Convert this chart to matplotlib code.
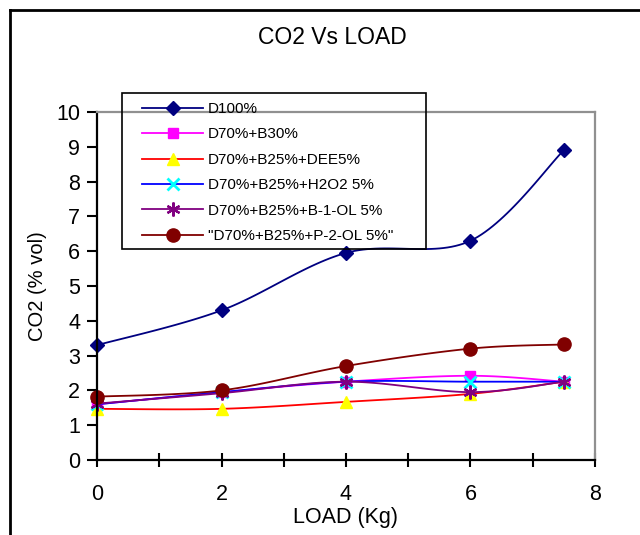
import numpy as np
import matplotlib
matplotlib.use("Agg")
from matplotlib import pyplot as plt
from matplotlib.lines import Line2D
from matplotlib.patches import Rectangle
from matplotlib.ticker import MultipleLocator

plt.rcParams['font.family'] = ['Liberation Sans', 'DejaVu Sans']

# Charge (kg)
load = [0, 2, 4, 6, 7.5]

# CO2 (% vol) pour chaque mélange
co2_d100 = [3.3, 4.3, 5.95, 6.3, 8.9]
co2_b30 = [1.6, 1.95, 2.25, 2.42, 2.25]
co2_dee = [1.47, 1.47, 1.67, 1.9, 2.25]
co2_h2o2 = [1.6, 1.95, 2.25, 2.25, 2.25]
co2_b1ol = [1.62, 1.92, 2.25, 1.95, 2.25]
co2_p2ol = [1.82, 2.0, 2.7, 3.2, 3.32]

noms = ['D100%', 'D70%+B30%', 'D70%+B25%+DEE5%', 'D70%+B25%+H2O2 5%',
        'D70%+B25%+B-1-OL 5%', '"D70%+B25%+P-2-OL 5%"']


# Courbe lissée façon tableur (Bézier / Catmull-Rom), renvoie aussi les indices des points d'origine
def lissage(x, y, n=30):
    p = np.column_stack([x, y]).astype(float)
    p = np.vstack([p[0], p, p[-1]])
    pts = []
    idx = []
    for i in range(1, len(p) - 2):
        p0, p1, p2, p3 = p[i - 1], p[i], p[i + 1], p[i + 2]
        c1 = p1 + (p2 - p0) / 6
        c2 = p2 - (p3 - p1) / 6
        t = np.linspace(0, 1, n, endpoint=False)[:, None]
        seg = ((1 - t) ** 3) * p1 + 3 * ((1 - t) ** 2) * t * c1 + 3 * (1 - t) * t ** 2 * c2 + t ** 3 * p2
        idx.append(len(pts))
        pts.extend(seg)
    idx.append(len(pts))
    pts.append(p[-2])
    pts = np.array(pts)
    return pts[:, 0], pts[:, 1], idx


fig = plt.figure(figsize=(6.4, 5.35), dpi=100)
ax = fig.add_axes([0.1516, 0.1402, 0.778, 0.6505])

styles = [
    dict(color='#000080', marker='D', ms=7, mfc='#000080', mec='#000080'),
    dict(color='#FF00FF', marker='s', ms=7.5, mfc='#FF00FF', mec='#FF00FF'),
    dict(color='#FF0000', marker='^', ms=9, mfc='#FFFF00', mec='#FFFF00'),
    dict(color='#0000FF', marker='x', ms=8, mfc='#00FFFF', mec='#00FFFF', mew=2),
    dict(color='#800080', marker=(6, 2, 0), ms=10, mfc='#800080', mec='#800080', mew=1.6),
    dict(color='#800000', marker='o', ms=9.5, mfc='#800000', mec='#800000'),
]
series = [co2_d100, co2_b30, co2_dee, co2_h2o2, co2_b1ol, co2_p2ol]

for y, nom, st in zip(series, noms, styles):
    xs, ys, idx = lissage(load, y)
    ax.plot(xs, ys, lw=1.3, markevery=idx, label=nom, clip_on=False, **st)

ax.set_xlim(0, 8)
ax.set_ylim(0, 10)
ax.xaxis.set_major_locator(MultipleLocator(2))
ax.xaxis.set_minor_locator(MultipleLocator(1))
ax.yaxis.set_major_locator(MultipleLocator(1))
ax.tick_params(axis='x', which='both', direction='inout', length=10, width=1.5, labelsize=15.5, pad=12)
ax.tick_params(axis='y', direction='out', length=7, width=1.5, labelsize=15.5, pad=5)

for s in ['left', 'bottom']:
    ax.spines[s].set_linewidth(1.6)
    ax.spines[s].set_color('black')
for s in ['top', 'right']:
    ax.spines[s].set_linewidth(1.6)
    ax.spines[s].set_color('#909090')

ax.set_xlabel('LOAD (Kg)', fontsize=15.5, labelpad=2)
ax.set_ylabel('CO2 (% vol)', fontsize=14.5, labelpad=7)
fig.text(0.52, 1 - 37.5 / 535, 'CO2 Vs LOAD', fontsize=16.5, ha='center', va='center')

# Légende sans cadre, le cadre est tracé à part
leg = ax.legend(loc='upper left', bbox_to_anchor=(0.0904, 1.0287), borderaxespad=0,
                fontsize=11, handlelength=4.0, handletextpad=0.33, labelspacing=0.75,
                borderpad=0, numpoints=1, frameon=False)
fig.add_artist(Rectangle((122 / 640, 1 - 249 / 535), (426 - 122) / 640, (249 - 93) / 535,
                         transform=fig.transFigure, facecolor='none', edgecolor='black',
                         lw=1.2, zorder=5))

# Cadre extérieur
fig.add_artist(Line2D([10 / 640, 10 / 640], [0, 1 - 10 / 535], color='black', lw=2))
fig.add_artist(Line2D([10 / 640, 1], [1 - 10 / 535, 1 - 10 / 535], color='black', lw=2))

fig.savefig('out.png', dpi=100)
